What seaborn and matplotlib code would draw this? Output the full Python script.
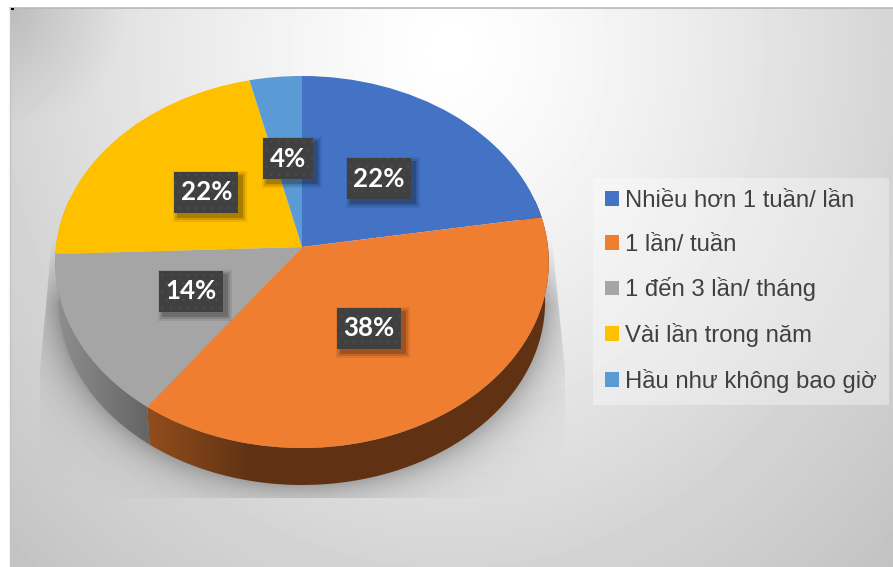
import numpy as np
import seaborn as sns
import matplotlib
matplotlib.use('Agg')
import matplotlib.pyplot as plt
import matplotlib.transforms as mtransforms
from matplotlib.patches import Polygon, Rectangle

categories = ['Nhiều hơn 1 tuần/ lần', '1 lần/ tuần', '1 đến 3 lần/ tháng',
              'Vài lần trong năm', 'Hầu như không bao giờ']
values = [22.4, 37.6, 14.4, 21.9, 3.7]
colors = ['#4472C4', '#F07E30', '#A5A5A5', '#FFC000', '#5B9BD5']

W, H = 893, 567
CX, CY = 302, 247     # pie centre on the picture
SX, SY = 246, 184.8   # radius of the disc
K = 0.0806            # perspective of the tilt


class Tilt(mtransforms.Transform):
    # unit disc of the pie -> pixels of the tilted disc
    input_dims = 2
    output_dims = 2

    def transform_non_affine(self, xy):
        xy = np.asarray(xy, dtype=float)
        w = 1 + K * xy[:, 1]
        return np.column_stack((CX + SX * xy[:, 0] / w, CY - SY * xy[:, 1] / w))


sns.set_theme(style='white')
plt.rcParams['font.family'] = ['Liberation Sans', 'DejaVu Sans']
plt.rcParams['hatch.linewidth'] = 0.5

fig = plt.figure(figsize=(W / 100, H / 100), dpi=100, facecolor='white')
ax = fig.add_axes([0, 0, 1, 1])

wedges, _, autotexts = ax.pie(values, colors=sns.color_palette(colors), startangle=90,
                              counterclock=False, autopct='%.0f%%', pctdistance=0.5,
                              wedgeprops={'linewidth': 0},
                              textprops={'family': 'Lato', 'weight': 'bold', 'color': 'white',
                                         'fontsize': 18.6})
ax.set_aspect('auto')
ax.set_xlim(0, W)
ax.set_ylim(H, 0)
ax.axis('off')

tilt = Tilt()
for w in wedges:
    w.set_transform(tilt + ax.transData)
    w.set_zorder(5)

# background
xx, yy = np.meshgrid(np.arange(10, W) + .5, np.arange(8, H) + .5)
t = np.sqrt(((xx - 450) / 450) ** 2 + ((yy - 50) / 520) ** 2)
bg = 255 - 43 * np.clip(t, 0, 1) ** 1.3 - 50 * np.clip(t - 1, 0, 1) ** 1.1
bg = bg - 25 * np.clip(1 - np.hypot(xx - 10, yy - 8) / 120, 0, 1)
bg = np.clip(bg, 0, 255) / 255
ax.imshow(bg, cmap='gray', vmin=0, vmax=1, extent=(10, W, H, 8), zorder=0,
          aspect='auto', interpolation='nearest')
ax.plot([10, W], [7.5, 7.5], color='#b8b8b8', lw=1.2, zorder=1)
ax.plot([9.5, 9.5], [7, H], color='#c4c4c4', lw=1, zorder=1)
ax.add_patch(Rectangle((11, 8), 3, 1.5, fc='black', ec='none', zorder=1))

# soft shadow under the disc
d = np.hypot((xx - 302) / 243, (yy - 296) / 187)
shade = 0.30 * np.exp(-np.clip(d - 1, 0, None) * 243 / 22) * np.clip((yy - 235) / 70, 0, 1)
sh = np.zeros(xx.shape + (4,))
sh[..., 3] = shade
im = ax.imshow(sh, extent=(10, W, H, 8), zorder=2, aspect='auto')
clip = Polygon([(52, 240), (40, 370), (40, 498), (565, 498), (565, 370), (552, 240)],
               closed=True, fill=False, lw=0, transform=ax.transData)
ax.add_patch(clip)
im.set_clip_path(clip)

# side wall, shaded from left to right
gx = np.arange(40, 570)
f = np.interp(gx, [55, 148, 250, 893], [.87, .61, .40, .40])
for w, c in zip(wedges, sns.color_palette(colors)):
    th = np.radians(np.linspace(w.theta1, w.theta2, 120))
    top = tilt.transform(np.column_stack((np.cos(th), np.sin(th))))
    low = np.column_stack((CX + (top[:, 0] - CX) * .985, CY + (top[:, 1] - CY) * .985 + 40))
    poly = Polygon(np.vstack((top, low[::-1])), closed=True, fill=False, lw=0)
    ax.add_patch(poly)
    img = np.outer(f, c)[None, :, :]
    wall = ax.imshow(img, extent=(40, 570, 500, 200), zorder=3, aspect='auto')
    wall.set_clip_path(poly)

# data labels
for txt in autotexts:
    txt.set_transform(tilt + ax.transData)
    txt.set_zorder(9)
    txt.set_ha('center')
    txt.set_va('center')
    px, py = tilt.transform(np.array([txt.get_position()]))[0]
    bw = 50 if len(txt.get_text()) == 2 else 64
    bh = 41
    for g, a in zip([5, 3, 1], [.08, .12, .18]):
        ax.add_patch(Rectangle((px - bw / 2 + 4 - g, py - bh / 2 + 4 - g), bw + 2 * g, bh + 2 * g,
                               fc='black', ec='none', alpha=a, zorder=7))
    ax.add_patch(Rectangle((px - bw / 2, py - bh / 2), bw, bh, fc='#404040', ec='#4c4c4c', lw=0,
                           hatch='..', zorder=8))

leg = ax.legend(wedges, categories, loc='upper left',
                bbox_to_anchor=(593 / W, 1 - 178 / H), bbox_transform=ax.transAxes,
                frameon=True, facecolor='white', framealpha=.35, edgecolor='none', fancybox=False,
                fontsize=17.2, labelcolor='#404040', handlelength=.58, handleheight=.58,
                handletextpad=.25, labelspacing=.91, borderaxespad=0, borderpad=.5)
leg.set_zorder(6)

fig.savefig('out.png', dpi=100)
